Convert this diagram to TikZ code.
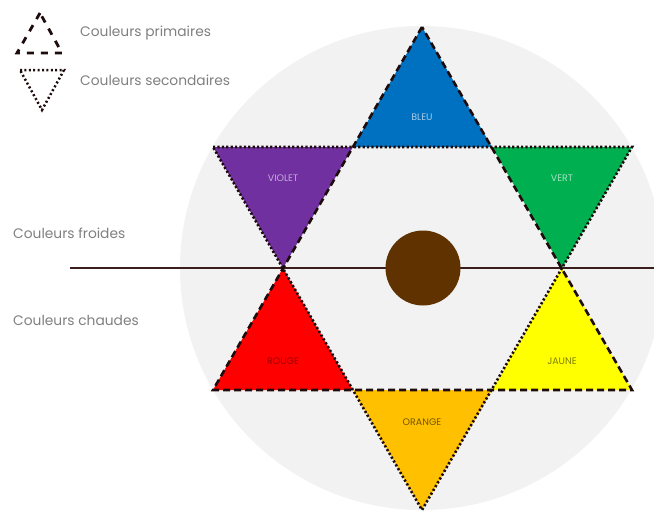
\documentclass[tikz,border=0pt]{standalone}
\usepackage{fontspec}
\setmainfont{Poppins}
\usetikzlibrary{positioning}
\definecolor{fond}{HTML}{F2F2F2}
\definecolor{bordure}{HTML}{1E0C0C}
\definecolor{trait}{HTML}{3A1E1E}
\definecolor{gristexte}{HTML}{808080}
\definecolor{brun}{HTML}{5F3200}
\definecolor{bleu}{HTML}{0070C0}
\definecolor{violet}{HTML}{7030A0}
\definecolor{vert}{HTML}{00B050}
\definecolor{rouge}{HTML}{FF0000}
\definecolor{jaune}{HTML}{FFFF00}
\definecolor{orange}{HTML}{FFC000}
\tikzset{
  primaire/.style={draw=bordure, line width=2.6pt, dash pattern=on 7pt off 4pt},
  secondaire/.style={draw=bordure, line width=2.6pt, dash pattern=on 2.2pt off 2.2pt},
  etiquette/.style={font=\fontsize{9.5}{11}\selectfont},
  legende/.style={font=\fontsize{13.8}{16}\selectfont, text=gristexte, anchor=west, inner sep=0pt},
}

\begin{document}
\begin{tikzpicture}[x=1pt, y=-1pt]
    \clip (0,0) rectangle (654,514);
    \fill[white] (0,0) rectangle (654,514);

    % Cercle
    \fill[fond] (422,268) circle (242);

    % Sommets
    \coordinate (h) at (422,27);
    \coordinate (pg) at (213,390);
    \coordinate (pd) at (632,390);
    \coordinate (sg) at (213,147);
    \coordinate (sd) at (632,147);
    \coordinate (b) at (422,510);
    \coordinate (i1) at (353,147);
    \coordinate (i2) at (492,147);
    \coordinate (i3) at (283,268);
    \coordinate (i4) at (562,268);
    \coordinate (i5) at (353,390);
    \coordinate (i6) at (492,390);

    % Couleurs
    \fill[bleu] (h) -- (i1) -- (i2) -- cycle;
    \fill[violet] (sg) -- (i1) -- (i3) -- cycle;
    \fill[vert] (i2) -- (sd) -- (i4) -- cycle;
    \fill[rouge] (i3) -- (pg) -- (i5) -- cycle;
    \fill[jaune] (i4) -- (i6) -- (pd) -- cycle;
    \fill[orange] (i5) -- (i6) -- (b) -- cycle;

    % Ligne
    \coordinate (gauche) at (70,268);
    \coordinate (droite) at (654,268);
    \draw[trait, line width=1.8pt] (gauche) -- (droite);

    % Triangles
    \draw[secondaire] (sg) -- (sd) -- (b) -- cycle;
    \draw[primaire] (h) -- (pg) -- (pd) -- cycle;

    \node[circle, fill=brun, minimum size=75pt, inner sep=0pt] (centre) at (423,268) {};

    \node[etiquette, text=bleu!35!white] (lbleu) at (422,117) {BLEU};
    \node[etiquette, text=violet!40!white] (lviolet) at (283,178) {VIOLET};
    \node[etiquette, text=vert!35!white] (lvert) at (562,178) {VERT};
    \node[etiquette, text=rouge!60!black] (lrouge) at (283,361) {ROUGE};
    \node[etiquette, text=jaune!50!black] (ljaune) at (562,361) {JAUNE};
    \node[etiquette, text=orange!45!black] (lorange) at (422,422) {ORANGE};

    % Legende
    \draw[draw=bordure, line width=2.8pt, dash pattern=on 7pt off 7pt] (40,13) -- (17,53) -- (62,53) -- cycle;
    \draw[draw=bordure, line width=2.5pt, dash pattern=on 2pt off 2.4pt] (20,70) -- (64,70) -- (42,110) -- cycle;
    \node[legende] (prim) at (80,33) {Couleurs primaires};
    \node[legende, below=47pt of prim.west, anchor=west] (sec) {Couleurs secondaires};

    \node[legende] (froides) at (13,233) {Couleurs froides};
    \node[legende, below=87pt of froides.west, anchor=west] (chaudes) {Couleurs chaudes};
\end{tikzpicture}
\end{document}
